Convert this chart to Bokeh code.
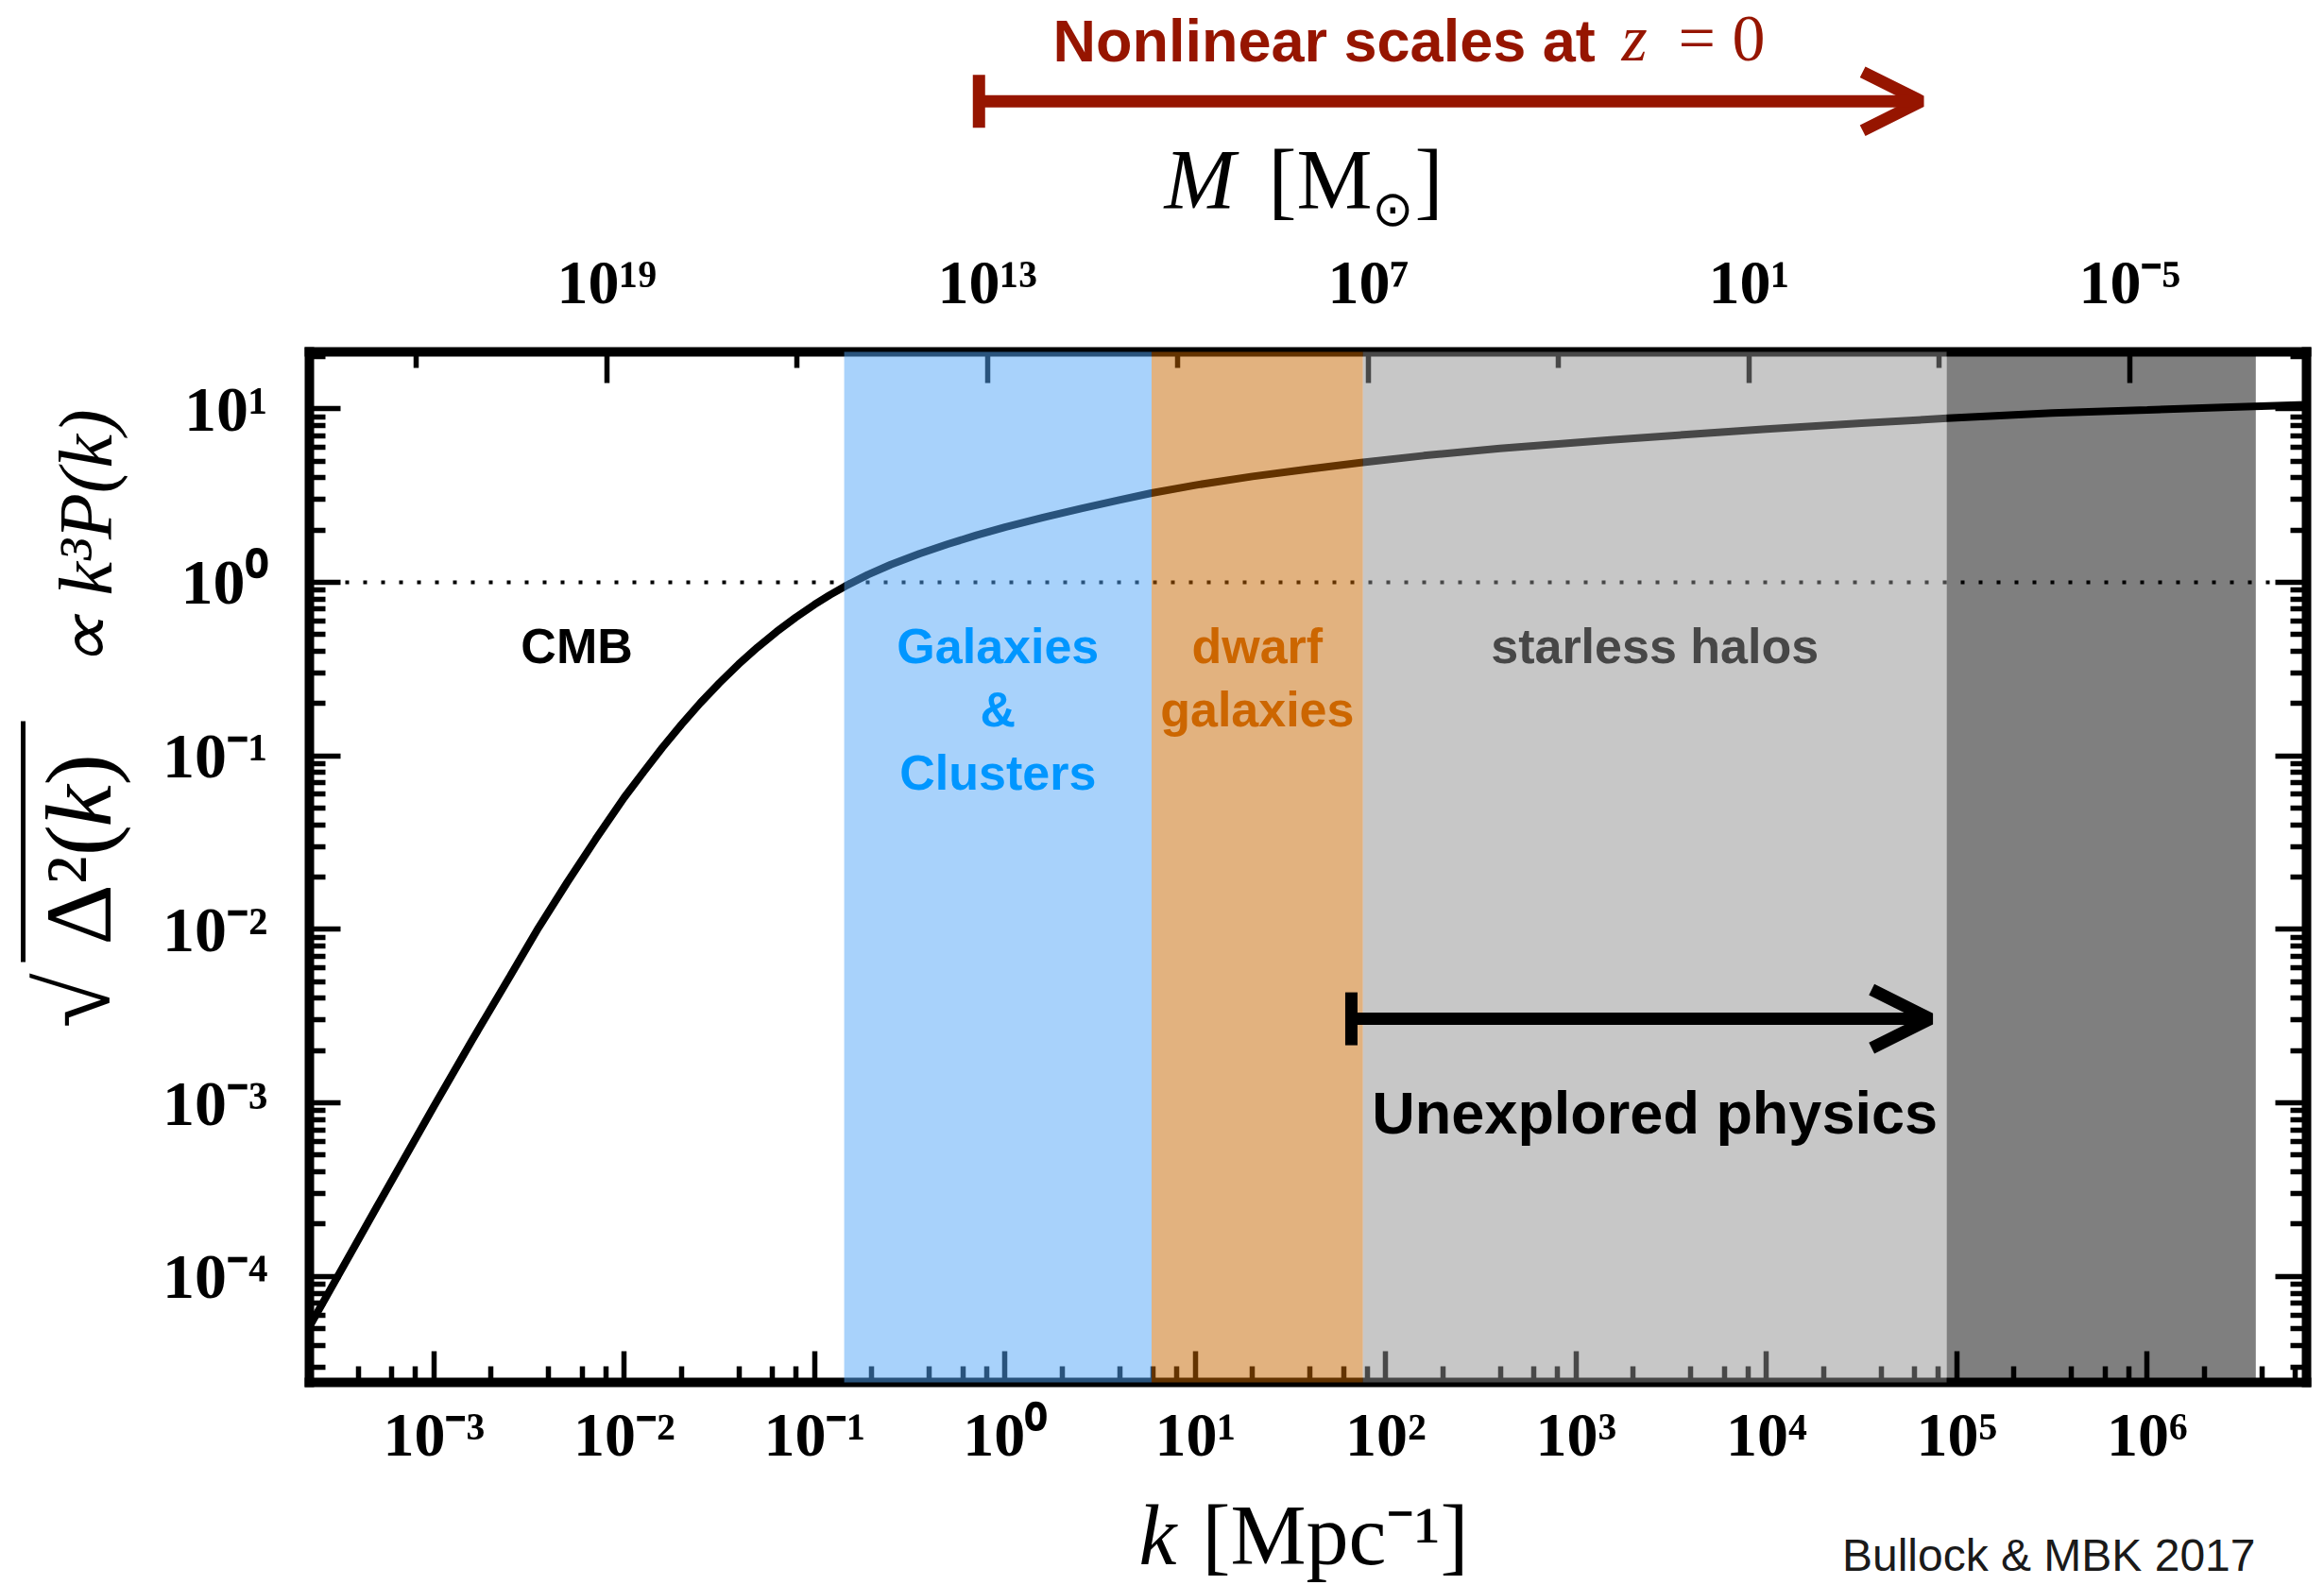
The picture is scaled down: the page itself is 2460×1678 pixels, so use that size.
import math
import numpy as np
from bokeh.plotting import figure
from bokeh.layouts import column, row
from bokeh.models import (Range1d, LogScale, LinearScale, LogAxis, FixedTicker,
                          CustomJSTickFormatter, BoxAnnotation, Span, Arrow, TeeHead,
                          OpenHead, Label, ColumnDataSource)
from bokeh.embed import file_html
from bokeh.resources import INLINE
from bokeh.core.properties import value

# ---------------------------------------------------------------- data
# log10 k [Mpc^-1] and log10 sqrt(Delta^2(k)) along the curve
log_k = [-3.654, -3.3, -3.0, -2.8, -2.6, -2.45, -2.3, -2.15, -2.0, -1.9,
         -1.8, -1.7, -1.6, -1.5, -1.4, -1.3, -1.2, -1.1, -1.0, -0.92,
         -0.84, -0.72, -0.6, -0.45, -0.3, -0.15, 0.0, 0.2, 0.4, 0.6,
         0.77, 1.0, 1.3, 1.6, 1.87, 2.2, 2.6, 3.18, 3.6, 4.0,
         4.5, 4.95, 5.5, 6.0, 6.4, 6.837]
log_amp = [-4.29, -3.60, -3.02, -2.64, -2.27, -1.99, -1.73, -1.48, -1.24, -1.095,
           -0.953, -0.82, -0.695, -0.58, -0.473, -0.375, -0.285, -0.203, -0.128, -0.073,
           -0.023, 0.044, 0.102, 0.164, 0.220, 0.271, 0.318, 0.373, 0.425, 0.474,
           0.514, 0.560, 0.610, 0.653, 0.690, 0.730, 0.771, 0.820, 0.853, 0.883,
           0.917, 0.945, 0.975, 0.993, 1.008, 1.023]

# wavenumber boundaries of the shaded regimes [Mpc^-1]
regime_edges = [0.143, 5.89, 75.9, 8.85e4, 3.72e6]
regime_fill = ["#52A6F8", "#C66600", "#909090", "#000000"]

# regime names (first one sits left of the shading)
regime_names = ["CMB", "Galaxies\n&\nClusters", "dwarf\ngalaxies", "starless halos"]
regime_text_colors = ["#000000", "#0096FF", "#CC6600", "#474747"]

k_major = [1e-3, 1e-2, 1e-1, 1e0, 1e1, 1e2, 1e3, 1e4, 1e5, 1e6]
k_minor_mult = [2, 4, 6, 8]
amp_major = [1e-4, 1e-3, 1e-2, 1e-1, 1e0, 1e1]
amp_minor_mult = [2, 3, 4, 5, 6, 7, 8, 9]
mass_major = [1e19, 1e13, 1e7, 1e1, 1e-5]
mass_minor = [1e22, 1e16, 1e10, 1e4, 1e-2]

k_lim = (10 ** -3.654, 10 ** 6.837)
amp_lim = (10 ** -4.611, 10 ** 1.328)

nonlinear_k = (0.73, 6.5e4)      # nonlinear scales today
unexplored_k = (66.0, 7.25e4)    # unexplored small-scale physics
unexplored_level = 3.05e-3

# mean matter density [Msun / Mpc^3] for M(k) = 4/3 pi rho_m (pi/k)^3
rho_m = 4.08e10


def mass_of_k(kk):
    return 4.0 / 3.0 * math.pi * rho_m * (math.pi / kk) ** 3


# ---------------------------------------------------------------- layout
W, H = 2460, 1678
TOP_H, BOT_H, LEFT_W = 250, 103, 150
FRAME_L, FRAME_R = 327, 2441
FRAME_T, FRAME_B = 372, 1463
MID_H = H - TOP_H - BOT_H
RED = "#961500"
SHIFT = 0.37      # em offset of the alphabetic baseline in the renderer

k_range = Range1d(*k_lim)


def bare(width, height, **kw):
    f = figure(width=width, height=height, output_backend="svg", toolbar_location=None,
               x_axis_location=None, y_axis_location=None, **kw)
    f.outline_line_color = None
    f.xgrid.visible = False
    f.ygrid.visible = False
    f.background_fill_color = "white"
    f.border_fill_color = "white"
    return f


def put(fig, text, X, Y, size, font="Liberation Serif", style_="normal", color="black",
        align="left", angle=0.0, xr="default"):
    dx, dy = (-SHIFT * size, 0.0) if angle else (0.0, -SHIFT * size)
    fig.add_layout(Label(x=X + dx, y=Y + dy, text=text, text_font=font,
                         text_font_size=f"{size}px", text_font_style=style_,
                         text_color=color, text_align=align, text_baseline="alphabetic",
                         angle=angle, x_range_name=xr))


# --- strip above the frame: nonlinear-scale arrow and mass axis title
top_fig = bare(W, TOP_H, x_axis_type="log", x_range=k_range, y_range=Range1d(TOP_H, 0),
               min_border_left=FRAME_L, min_border_right=W - FRAME_R,
               min_border_top=0, min_border_bottom=0)
top_fig.extra_x_ranges = {"canvas": Range1d(FRAME_L, FRAME_R)}
top_fig.extra_x_scales = {"canvas": LinearScale()}
top_fig.add_layout(Arrow(x_start=nonlinear_k[0], x_end=nonlinear_k[1],
                         y_start=106.7, y_end=106.7, line_width=13, line_color=RED,
                         start=TeeHead(size=56, line_width=13, line_color=RED),
                         end=OpenHead(size=62, line_width=13, line_color=RED)))
put(top_fig, "Nonlinear scales at", 1114, 66, 63, font="Liberation Sans", style_="bold",
    color=RED, xr="canvas")
put(top_fig, "z", 1716, 66, 70, style_="italic", color=RED, xr="canvas")
put(top_fig, "= 0", 1776, 66, 70, color=RED, xr="canvas")
put(top_fig, "M", 1232, 223, 90, style_="italic", xr="canvas")
put(top_fig, "[M", 1342, 223, 90, xr="canvas")
put(top_fig, "\u2299", 1452, 240, 52, font="DejaVu Sans", xr="canvas")
put(top_fig, "]", 1497, 223, 90, xr="canvas")

# --- strip left of the frame: vertical axis title
left_fig = bare(LEFT_W, MID_H, x_range=Range1d(0, LEFT_W),
                y_range=Range1d(FRAME_B, FRAME_T),
                min_border_left=0, min_border_right=0, min_border_top=FRAME_T - TOP_H,
                min_border_bottom=TOP_H + MID_H - FRAME_B)
put(left_fig, "\u221d k\u00b3P(k)", 120, 707, 80, style_="italic", angle=math.pi / 2)
put(left_fig, "\u0394\u00b2(", 120, 1000, 100, angle=math.pi / 2)
put(left_fig, "k", 120, 875, 100, style_="italic", angle=math.pi / 2)
put(left_fig, ")", 120, 831, 100, angle=math.pi / 2)
put(left_fig, "\u221a", 118, 1088, 106, angle=math.pi / 2)
left_fig.segment(x0=[24], y0=[1018], x1=[24], y1=[763], line_width=5, line_color="black")

# --- strip below: wavenumber axis title and credit
bot_fig = bare(W, BOT_H, x_range=Range1d(FRAME_L, FRAME_R), y_range=Range1d(H, H - BOT_H),
               min_border_left=FRAME_L, min_border_right=W - FRAME_R, min_border_top=0,
               min_border_bottom=0)
put(bot_fig, "k", 1205, 1658, 90, style_="italic")
put(bot_fig, "[Mpc\u207b\u00b9]", 1272, 1658, 90)
put(bot_fig, "Bullock & MBK 2017", 2387, 1664, 48, font="Liberation Sans",
    color="#1a1a1a", align="right")

# --- main panel
p = figure(width=W - LEFT_W, height=MID_H, x_axis_type="log", y_axis_type="log",
           x_range=k_range, y_range=Range1d(*amp_lim),
           output_backend="svg", toolbar_location=None,
           min_border_left=FRAME_L - LEFT_W, min_border_right=W - FRAME_R,
           min_border_top=FRAME_T - TOP_H, min_border_bottom=TOP_H + MID_H - FRAME_B)
p.outline_line_color = None
p.background_fill_color = "white"
p.border_fill_color = "white"
p.xgrid.visible = False
p.ygrid.visible = False

p.extra_x_ranges = {"mass": Range1d(mass_of_k(k_lim[0]), mass_of_k(k_lim[1]))}
p.extra_x_scales = {"mass": LogScale()}

top = LogAxis(x_range_name="mass")
right = LogAxis()
p.add_layout(top, "above")
p.add_layout(right, "right")

sup_code = """
const e = Math.round(Math.log10(tick));
const sup = {"-": "\u207b", "0": "\u2070", "1": "\u00b9", "2": "\u00b2", "3": "\u00b3",
             "4": "\u2074", "5": "\u2075", "6": "\u2076", "7": "\u2077", "8": "\u2078",
             "9": "\u2079"};
return "10" + String(e).split("").map(c => sup[c]).join("");
"""


def minor_of(mults, lo, hi):
    out = []
    for e in range(-6, 25):
        for m in mults:
            v = m * 10.0 ** e
            if min(lo, hi) <= v <= max(lo, hi):
                out.append(v)
    return out


def style(ax, ticks, minor, labels=True, standoff=30, size="64px"):
    ax.ticker = FixedTicker(ticks=ticks, minor_ticks=minor)
    ax.axis_line_color = "black"
    ax.axis_line_width = 10
    ax.axis_line_cap = "square"
    ax.major_tick_in = 33
    ax.major_tick_out = 0
    ax.minor_tick_in = 17
    ax.minor_tick_out = 0
    ax.major_tick_line_width = 5.5
    ax.minor_tick_line_width = 5.5
    ax.major_tick_line_color = "black"
    ax.minor_tick_line_color = "black"
    if labels:
        ax.formatter = CustomJSTickFormatter(code=sup_code)
        ax.major_label_text_font = "Liberation Serif"
        ax.major_label_text_font_style = "bold"
        ax.major_label_text_font_size = size
        ax.major_label_text_color = "black"
        ax.major_label_standoff = standoff
    else:
        ax.major_label_text_font_size = "1px"
        ax.major_label_text_color = None
        ax.major_label_standoff = 0


xb = p.below[0]
yl = p.left[0]
style(xb, k_major, minor_of(k_minor_mult, *k_lim), standoff=18, size="66px")
style(yl, amp_major, minor_of(amp_minor_mult, *amp_lim), standoff=44, size="68px")
style(top, mass_major, mass_minor, standoff=38, size="66px")
style(right, amp_major, minor_of(amp_minor_mult, *amp_lim), labels=False)
yl.major_label_orientation = "horizontal"

# curve
k = 10 ** np.array(log_k)
amp = 10 ** np.array(log_amp)
p.line(k, amp, line_width=8, line_color="black")

# sqrt(Delta^2) = 1
p.add_layout(Span(location=1.0, dimension="width", line_color="black",
                  line_width=4, line_dash="4 15"))

# shaded regimes, laid over the frame edges as well
pad = 10 ** (6 / 183.7)
for left, right_edge, col in zip(regime_edges[:-1], regime_edges[1:], regime_fill):
    p.add_layout(BoxAnnotation(left=left, right=right_edge,
                               bottom=amp_lim[0] / pad, top=amp_lim[1] * pad,
                               fill_color=col, fill_alpha=0.5, line_color=None))

# regime names, one row per text line
lefts = [k_lim[0]] + regime_edges[:3]
rights = regime_edges[:4]
first_baseline = 0.427
line_step = 10 ** (67 / 183.7)
tx, ty, tt, tc = [], [], [], []
for name, lo, hi, col in zip(regime_names, lefts, rights, regime_text_colors):
    for j, line in enumerate(name.split("\n")):
        tx.append(math.sqrt(lo * hi))
        ty.append(first_baseline / line_step ** j)
        tt.append(line)
        tc.append(col)
names_src = ColumnDataSource(dict(x=tx, y=ty, text=tt, color=tc))
p.text(x="x", y="y", text="text", text_color="color", source=names_src,
       text_font=value("Liberation Sans"), text_font_style="bold",
       text_font_size="52px", text_align="center", text_baseline="alphabetic",
       level="overlay")

# unexplored physics arrow
p.add_layout(Arrow(x_start=unexplored_k[0], x_end=unexplored_k[1],
                   y_start=unexplored_level, y_end=unexplored_level,
                   line_width=13, line_color="black",
                   start=TeeHead(size=56, line_width=13, line_color="black"),
                   end=OpenHead(size=62, line_width=13, line_color="black")))
p.add_layout(Label(x=math.sqrt(regime_edges[2] * regime_edges[3]), y=8.8e-4,
                   text="Unexplored physics", text_font="Liberation Sans",
                   text_font_style="bold", text_font_size="63px", text_align="center",
                   text_baseline="alphabetic", text_color="black"))

layout = column(top_fig, row(left_fig, p), bot_fig)
open("out.html", "w").write(file_html(layout, INLINE))
